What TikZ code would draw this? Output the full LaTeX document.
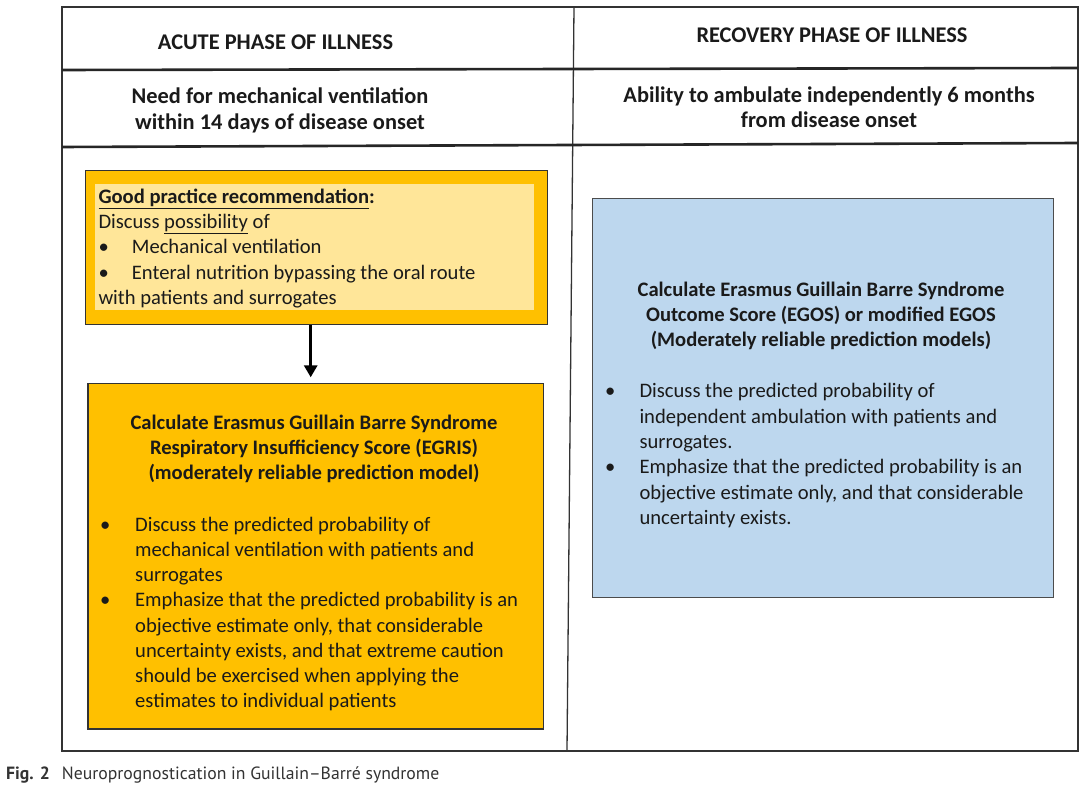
\documentclass[tikz,border=0pt]{standalone}
\usepackage{fontspec}
\setmainfont{Carlito}
\newfontfamily\capfont{PT Sans}
\usetikzlibrary{arrows.meta}
\definecolor{gold}{HTML}{FFC000}
\definecolor{paleyellow}{HTML}{FFE699}
\definecolor{paleblue}{HTML}{BDD7EE}
\definecolor{inkgray}{HTML}{1A1A1A}
\definecolor{capgray}{HTML}{333333}
\newcommand{\mybul}[1]{\makebox[#1][l]{•}}
\newcommand{\myind}[1]{\hspace*{#1}}
\begin{document}
\begin{tikzpicture}[x=1pt,y=-1pt,
  framel/.style={draw=black!80, line width=1.3pt},
  sepl/.style={draw=black!85, line width=2.6pt},
  boxshape/.style={draw=black!80, line width=1.2pt, anchor=north west, inner sep=0pt},
  bodytxt/.style={font=\fontsize{20.6}{25.25}\selectfont, inner sep=0pt, align=left, anchor=north west, text=inkgray},
  titletxt/.style={font=\bfseries\fontsize{20.6}{25}\selectfont, inner sep=0pt, align=center, anchor=north, text=inkgray},
  headtxt/.style={font=\bfseries\fontsize{22.4}{26}\selectfont, inner sep=0pt, align=center, text=inkgray},
  captxt/.style={font=\capfont\fontsize{17.7}{20}\selectfont, inner sep=0pt, anchor=base west, text=capgray}
]
\useasboundingbox (0,0) rectangle (1080,786);
\fill[white] (0,0) rectangle (1080,786);

% table frame
\coordinate (tl) at (62,7);
\coordinate (tr) at (1078,7);
\coordinate (bl) at (62,751);
\coordinate (br) at (1078,751);
\draw[framel] (tl) -- (tr) -- (br) -- (bl) -- cycle;
\coordinate (dtop) at (574,7);
\coordinate (dbot) at (567,751);
\draw[framel] (dtop) -- (dbot);
\coordinate (s1l) at (62,70);
\coordinate (s1r) at (1078,68);
\coordinate (s2l) at (62,147);
\coordinate (s2r) at (1078,143);
\draw[sepl] (s1l) -- (s1r);
\draw[sepl] (s2l) -- (s2r);

% headers
\node[headtxt, anchor=base] (hacute) at (275.5,49.5) {ACUTE PHASE OF ILLNESS};
\node[headtxt, anchor=base] (hrecov) at (832,42.5) {RECOVERY PHASE OF ILLNESS};
\node[headtxt, anchor=north] (hneed) at (280,85.3) {\strut Need for mechanical ventilation\\within 14 days of disease onset};
\node[headtxt, anchor=north, font=\bfseries\fontsize{22.4}{25}\selectfont] (hamb) at (829,84.5) {\strut Ability to ambulate independently 6 months\\from disease onset};

% good practice box
\node[boxshape, fill=gold, minimum width=462pt, minimum height=154pt] (gp) at (84.5,170) {};
\node[anchor=north west, inner sep=0pt, fill=paleyellow, minimum width=439pt, minimum height=126pt] (gpin) at (95,184) {};
\node[bodytxt] (gptext) at (98.3,185.6) {\strut\textbf{\underline{Good practice recommendation}:}\\
Discuss \underline{possibility} of\\
\mybul{33.4pt}Mechanical ventilation\\
\mybul{33.4pt}Enteral nutrition bypassing the oral route\\
with patients and surrogates};

% EGRIS box
\node[boxshape, fill=gold, minimum width=455.4pt, minimum height=345pt] (egris) at (87.3,383.3) {};
\node[titletxt] (egtitle) at (314,411.5) {\strut Calculate Erasmus Guillain Barre Syndrome\\Respiratory Insufficiency Score (EGRIS)\\(moderately reliable prediction model)};
\node[bodytxt] (egtext) at (100,513.3) {\strut\mybul{35pt}Discuss the predicted probability of\\
\myind{35pt}mechanical ventilation with patients and\\
\myind{35pt}surrogates\\
\mybul{35pt}Emphasize that the predicted probability is an\\
\myind{35pt}objective estimate only, that considerable\\
\myind{35pt}uncertainty exists, and that extreme caution\\
\myind{35pt}should be exercised when applying the\\
\myind{35pt}estimates to individual patients};

% arrow
\coordinate (ax) at (310.7,0);
\draw[line width=3pt, black, -{Triangle[width=13pt,length=12pt]}, shorten >=6pt] (gp.south -| ax) -- (egris.north -| ax);

% EGOS box
\node[boxshape, fill=paleblue, draw=black!70, minimum width=461pt, minimum height=398.4pt] (egos) at (591.7,198.3) {};
\node[titletxt] (eotitle) at (821,278.5) {\strut Calculate Erasmus Guillain Barre Syndrome\\Outcome Score (EGOS) or modified EGOS\\(Moderately reliable prediction models)};
\node[bodytxt, font=\fontsize{20.6}{25.3}\selectfont] (eotext) at (605,380) {\strut\mybul{34.3pt}Discuss the predicted probability of\\
\myind{34.3pt}independent ambulation with patients and\\
\myind{34.3pt}surrogates.\\
\mybul{34.3pt}Emphasize that the predicted probability is an\\
\myind{34.3pt}objective estimate only, and that considerable\\
\myind{34.3pt}uncertainty exists.};

% caption
\node[captxt, font=\capfont\bfseries\fontsize{17.7}{20}\selectfont] (figno) at (6,779) {Fig. 2};
\node[captxt] (captext) at (61.7,779) {Neuroprognostication in Guillain–Barré syndrome};
\end{tikzpicture}
\end{document}
